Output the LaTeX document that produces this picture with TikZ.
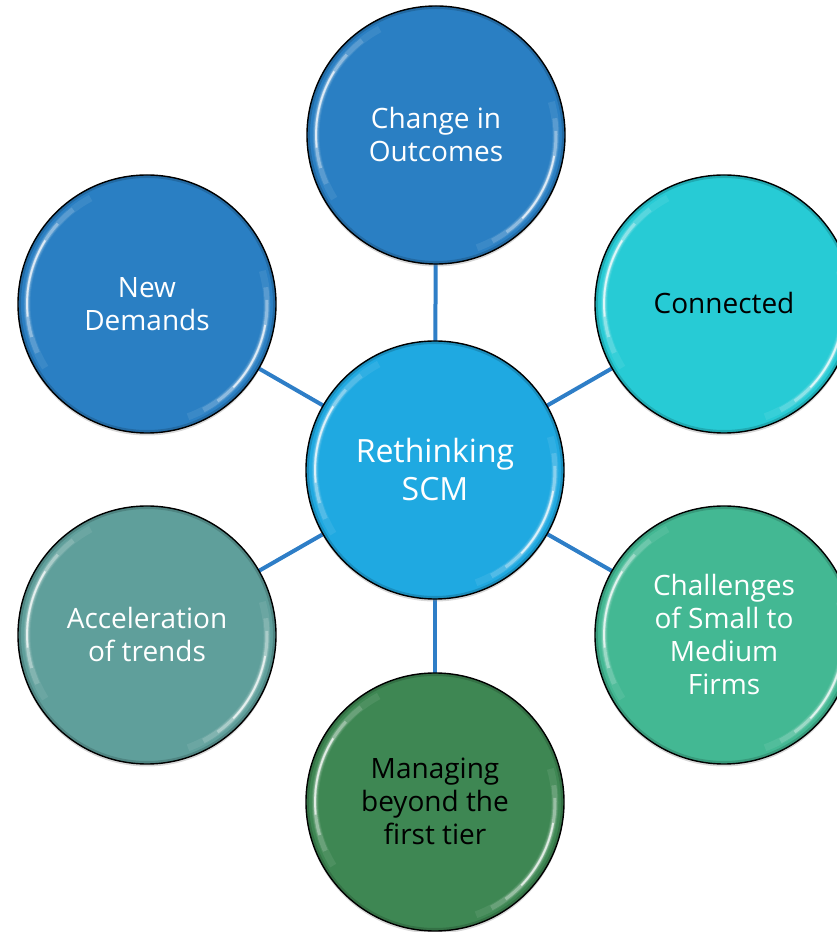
\documentclass[tikz,border=0pt]{standalone}
\usepackage{fontspec}
\setmainfont{Open Sans}
\usetikzlibrary{shadows,backgrounds}

\definecolor{blueA}{HTML}{2A7FC3}
\definecolor{hubblue}{HTML}{1FA9E1}
\definecolor{cyanC}{HTML}{27CBD5}
\definecolor{greenS}{HTML}{43B893}
\definecolor{greenD}{HTML}{3E8753}
\definecolor{tealA}{HTML}{5F9F9B}
\definecolor{linkblue}{HTML}{2E7EC7}

% glossy rim: darker inner edge plus two soft white reflections
\newcommand\bubblegloss{%
  \draw[black, opacity=.16, line width=6pt] (path picture bounding box.center) circle[radius=129pt];
  \foreach \s/\e/\o/\w in {118/212/.08/7pt, 128/204/.16/5pt, 138/196/.32/3pt, 148/186/.7/1.8pt}
    \draw[white, opacity=\o, line width=\w]
      ([shift={(\s:120pt)}]path picture bounding box.center) arc[start angle=\s, end angle=\e, radius=120pt];
  \foreach \s/\e/\o/\w in {-70/16/.08/7pt, -62/8/.16/5pt, -54/2/.32/3pt, -44/-10/.7/1.8pt}
    \draw[white, opacity=\o, line width=\w]
      ([shift={(\s:120pt)}]path picture bounding box.center) arc[start angle=\s, end angle=\e, radius=120pt];
}

\tikzset{
  bubble/.style={circle, draw=black, line width=1.4pt, minimum size=258pt, inner sep=0pt,
    align=center, font=\fontsize{28}{33}\selectfont, text depth=0pt,
    drop shadow={shadow xshift=0pt, shadow yshift=-2.5pt, opacity=.3},
    path picture={\bubblegloss}},
  hubbubble/.style={bubble, font=\fontsize{32}{38}\selectfont},
  link/.style={draw=linkblue, line width=4pt},
}

\begin{document}
\begin{tikzpicture}[x=1pt,y=1pt]
  \useasboundingbox (0,0) rectangle (837,932);

  \node[hubbubble, fill=hubblue, text=white, text height=61pt] (hub) at (435,462) {Rethinking\\SCM};

  \node[bubble, fill=blueA, text=white, text height=53pt] (outcomes) at (436,797) {Change in\\Outcomes};
  \node[bubble, fill=blueA, text=white, text height=53pt] (demands) at (147,628) {New\\Demands};
  \node[bubble, fill=cyanC, text=black, text height=20pt] (connected) at (724,628) {Connected};
  \node[bubble, fill=tealA, text=white, text height=53pt] (accel) at (147,297) {Acceleration\\of trends};
  \node[bubble, fill=greenS, text=white, text height=119pt] (smes) at (724,297) {Challenges\\of Small to\\Medium\\Firms};
  \node[bubble, fill=greenD, text=black, text height=86pt] (tier) at (435,130) {Managing\\beyond the\\first tier};

  \begin{scope}[on background layer]
    \foreach \n in {outcomes,demands,connected,accel,smes,tier}
      \draw[link] (hub.center) -- (\n.center);
  \end{scope}
\end{tikzpicture}
\end{document}
